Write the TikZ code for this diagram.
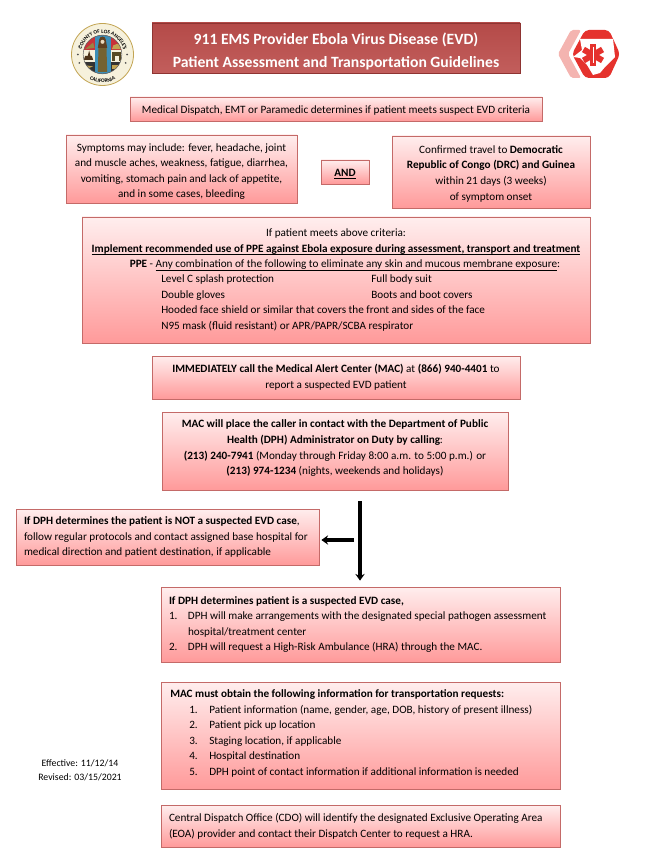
\documentclass[tikz,border=0pt]{standalone}
\usepackage{fontspec}
\setmainfont{Carlito}
\usetikzlibrary{arrows,arrows.meta,shadows,decorations.text}
\definecolor{boxtop}{HTML}{FFEEEE}
\definecolor{boxbot}{HTML}{FF9A9A}
\definecolor{boxline}{HTML}{C46A68}
\definecolor{headtop}{HTML}{B44A48}
\definecolor{headbot}{HTML}{C25E5C}
\definecolor{headline}{HTML}{8E3432}
\definecolor{sealred}{HTML}{C8323A}
\definecolor{sealblue}{HTML}{3C8FB8}
\definecolor{sealgold}{HTML}{C2A452}
\definecolor{sealcream}{HTML}{F6F1DC}
\definecolor{hexred}{HTML}{E5322D}
\definecolor{hexpale}{HTML}{F4B4B0}
\newcommand{\numcol}[2]{\makebox[#1][l]{#2}}
\newcommand{\lowline}[1]{\underline{\smash{#1}}}
\tikzset{
  pinkbox/.style={draw=boxline, line width=0.6pt, top color=boxtop, bottom color=boxbot,
    drop shadow={shadow xshift=1pt, shadow yshift=-1pt, fill=black!55, opacity=.55},
    inner sep=0pt, align=center, font=\fontsize{8.4}{11.7}\selectfont},
  leftbox/.style={pinkbox, align=left, inner xsep=6pt,
    execute at begin node={\spaceskip=0pt\relax\xspaceskip=0pt\relax}},
  headbox/.style={pinkbox, draw=headline, top color=headtop, bottom color=headbot, text=white,
    font=\fontsize{11.75}{17.25}\selectfont\bfseries},
  boxtext/.style={inner sep=0pt, font=\fontsize{8.4}{11.7}\selectfont},
  sealtext/.style={postaction={decorate, decoration={text along path, text align=center, text={#1}}}},
  bigarrow/.style={line width=2.8pt, -{Stealth[length=5pt,width=7pt]}}
}
\begin{document}
\begin{tikzpicture}[x=0.75pt,y=-0.75pt]
  \useasboundingbox (0,0) rectangle (671,855);

  % seal
  \begin{scope}[shift={(102.5,54.5)},x=1pt,y=1pt]
    \node[circle, fill=sealcream, draw=sealgold, line width=0.6pt, minimum size=46.5pt, inner sep=0pt] (seal) at (0,0) {};
    \begin{scope}
      \clip (0,0) circle[radius=14.5];
      \fill[sealred] (-15,3) rectangle (15,15);
      \fill[sealcream] (-15,-6) rectangle (15,3);
      \fill[black!80] (-15,-15) rectangle (15,-6);
      \fill[sealgold] (7,4) arc[start angle=180, end angle=0, radius=4] -- cycle;
      \fill[sealgold!80!black] (-13,4) -- (-7,9) -- (-6,5) -- cycle;
      \fill[black!60!brown] (-14,-4) -- (-7,-4) -- (-8,-1) -- (-9,-1) -- (-10,3) -- (-11,-1) -- (-13,-1) -- cycle;
      \fill[black!55!sealgold] (7,-5) rectangle (14,2);
      \fill[sealcream] (9,-5) rectangle (12,-1);
      \fill[sealgold] (-13,-11) -- (-7,-9) -- (-13,-8) -- cycle;
      \fill[sealgold] (7,-11) rectangle (13,-8);
      \fill[sealblue] (-6,-15) rectangle (6,15);
      \fill[sealred!60!sealcream] (-3.5,-7) rectangle (3.5,-10);
      \fill[black!40!sealgold] (-3,5) -- (3,5) -- (3.5,-13) -- (-3.5,-13) -- cycle;
      \fill[black!50!brown] (-2.5,11) arc[start angle=180, end angle=0, radius=2.5] -- (3.5,5) -- (-3.5,5) -- cycle;
      \fill[sealcream!80!brown] (0,9.5) circle[radius=1.5];
    \end{scope}
    \draw[black!60, line width=0.4pt] (0,0) circle[radius=14.5];
    \foreach \a in {-20,0,20,160,180,200}
      \fill[black!70] (\a:18.5) circle[radius=0.7];
    \path[sealtext={|\fontsize{4}{4}\selectfont\bfseries|COUNTY OF LOS ANGELES}] (168:16) arc[start angle=168, end angle=12, radius=16];
    \path[sealtext={|\fontsize{4}{4}\selectfont\bfseries|CALIFORNIA}] (238:21) arc[start angle=238, end angle=302, radius=21];
  \end{scope}

  % hexagon
  \fill[hexpale, rounded corners=1.5pt] (558,54) -- (571,30) -- (581,30) -- (568,54) -- (581,78) -- (571,78) -- cycle;
  \fill[hexred, rounded corners=3pt] (572,54) -- (585,30) -- (609,30) -- (620,54) -- (609,78) -- (585,78) -- cycle;
  \fill[white] (580,39) -- (613,39) -- (615,57) -- (605,67) -- (600,73) -- (593,75) -- (587,65) -- (580,58) -- (573,57) -- (582,50) -- cycle;
  \foreach \a in {90,30,150}
    \draw[hexred, line width=4.5pt] (593,55) ++(\a:11) -- ++(\a+180:22);
  \draw[white, line width=0.6pt] (593,47) -- (593,63);

  % header
  \node[headbox, minimum width=276pt, minimum height=37.5pt] (head) at (336,48) {\rule{0pt}{13.5pt}911 EMS Provider Ebola Virus Disease (EVD)\\Patient Assessment and Transportation Guidelines};

  \node[pinkbox, minimum width=309pt, minimum height=18pt] (dispatch) at (336,109) {\rule{0pt}{7.5pt}Medical Dispatch, EMT or Paramedic determines if patient meets suspect EVD criteria};

  \node[pinkbox, minimum width=173.25pt, minimum height=51pt] (symptoms) at (181.5,169) {\rule{0pt}{9.8pt}Symptoms may include: fever, headache, joint\\and muscle aches, weakness, fatigue, diarrhea,\\vomiting, stomach pain and lack of appetite,\\and in some cases, bleeding};
  \node[pinkbox, minimum width=36pt, minimum height=18pt] (and) at (345,172) {\rule{0pt}{9pt}\textbf{\lowline{AND}}};
  \node[pinkbox, minimum width=148.5pt, minimum height=54pt] (travel) at (491,172) {\rule{0pt}{8.3pt}Confirmed travel to \textbf{Democratic}\\\textbf{Republic of Congo (DRC) and Guinea}\\within 21 days (3 weeks)\\of symptom onset};

  \node[pinkbox, minimum width=381pt, minimum height=94.5pt] (ppe) at (336,280) {};
  \node[boxtext, align=center, anchor=north] (ppehead) at (336,228.7) {If patient meets above criteria:\\\textbf{\lowline{Implement recommended use of PPE against Ebola exposure during assessment, transport and treatment}}\\\hspace*{13.5pt}\textbf{PPE} - \lowline{Any combination of the following to eliminate any skin and mucous membrane exposure}:};
  \node[boxtext, align=left, anchor=north west] (ppelist) at (161,274.7) {\numcol{157.5pt}{Level C splash protection}Full body suit\\\numcol{157.5pt}{Double gloves}Boots and boot covers\\Hooded face shield or similar that covers the front and sides of the face\\N95 mask (fluid resistant) or APR/PAPR/SCBA respirator};

  \node[pinkbox, minimum width=276pt, minimum height=32.25pt] (call) at (336,377.5) {\textbf{IMMEDIATELY call the Medical Alert Center (MAC)} at \textbf{(866) 940-4401} to\\report a suspected EVD patient};

  \node[pinkbox, minimum width=259.5pt, minimum height=58.5pt] (mac) at (335,451) {\textbf{MAC will place the caller in contact with the Department of Public}\\\textbf{Health (DPH) Administrator on Duty by calling}:\\\textbf{(213) 240-7941} (Monday through Friday 8:00 a.m. to 5:00 p.m.) or\\\textbf{(213) 974-1234} (nights, weekends and holidays)\rule[-5.5pt]{0pt}{0pt}};

  \node[leftbox, text width=215.25pt, minimum height=42pt] (notcase) at (167.5,537) {\textbf{If DPH determines the patient is NOT a suspected EVD case},\\follow regular protocols and contact assigned base hospital for\\medical direction and patient destination, if applicable};

  \node[leftbox, text width=287.25pt, minimum height=56.25pt] (suspect) at (360.5,624.5) {\textbf{If DPH determines patient is a suspected EVD case,}\\\numcol{14.25pt}{1.}DPH will make arrangements with the designated special pathogen assessment\\\numcol{14.25pt}{}hospital/treatment center\\\numcol{14.25pt}{2.}DPH will request a High-Risk Ambulance (HRA) through the MAC.};

  \node[pinkbox, minimum width=299.25pt, minimum height=80.25pt] (must) at (360.5,735.5) {};
  \node[boxtext, align=left, anchor=north west] (mustlist) at (170,689.3) {\textbf{MAC must obtain the following information for transportation requests:}\\\numcol{14.25pt}{}\numcol{15pt}{1.}Patient information (name, gender, age, DOB, history of present illness)\\\numcol{14.25pt}{}\numcol{15pt}{2.}Patient pick up location\\\numcol{14.25pt}{}\numcol{15pt}{3.}Staging location, if applicable\\\numcol{14.25pt}{}\numcol{15pt}{4.}Hospital destination\\\numcol{14.25pt}{}\numcol{15pt}{5.}DPH point of contact information if additional information is needed};

  \node[leftbox, text width=287.25pt, minimum height=31.5pt] (cdo) at (360.5,826) {Central Dispatch Office (CDO) will identify the designated Exclusive Operating Area\\(EOA) provider and contact their Dispatch Center to request a HRA.};

  \node[font=\fontsize{7.35}{10.5}\selectfont, align=center, inner sep=0pt] (dates) at (80,770) {Effective: 11/12/14\\Revised: 03/15/2021};

  % arrows
  \coordinate (trunk) at (360,501);
  \coordinate (branch) at (354,540);
  \draw[bigarrow, shorten >=4.5pt] (trunk) -- (trunk |- suspect.north);
  \draw[bigarrow, shorten >=1.5pt] (branch) -- (branch -| notcase.east);
\end{tikzpicture}
\end{document}
